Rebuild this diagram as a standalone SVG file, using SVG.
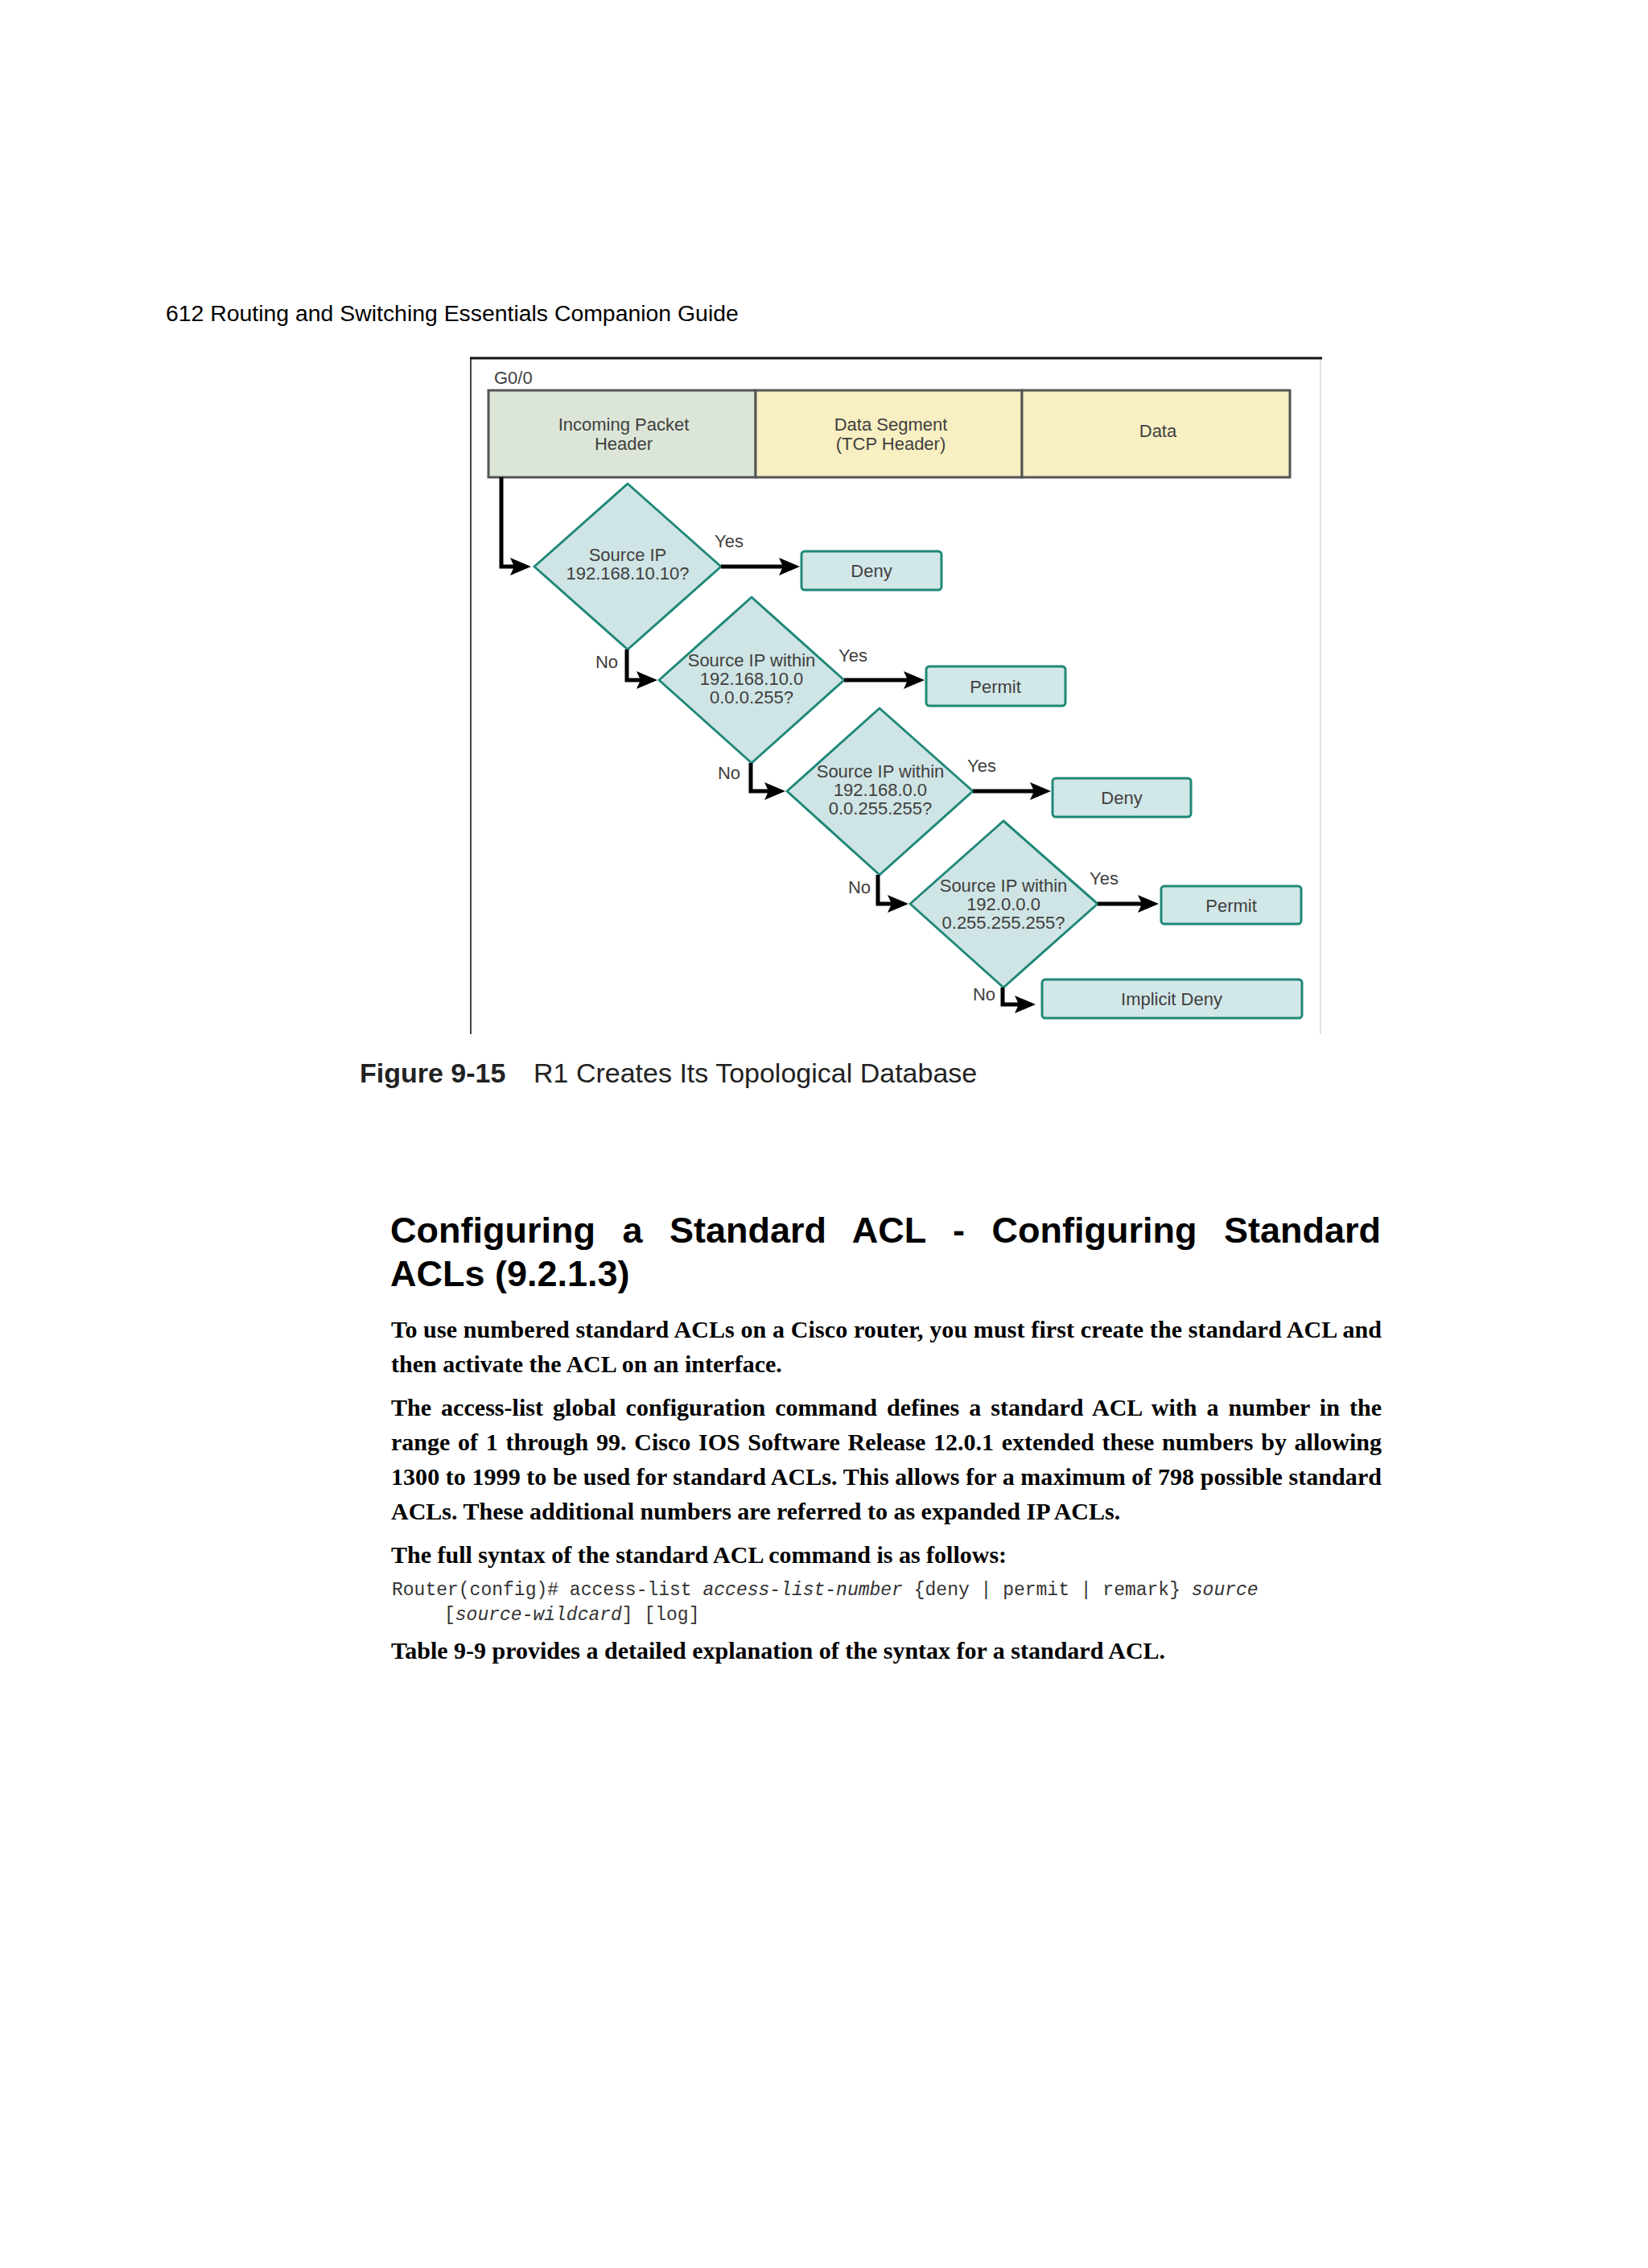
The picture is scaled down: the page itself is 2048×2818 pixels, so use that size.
<svg xmlns="http://www.w3.org/2000/svg" width="2048" height="2818" viewBox="0 0 2048 2818">
<style>
.sans{font-family:"Liberation Sans",Arial,sans-serif}
.fig{font-family:"Liberation Sans",Arial,sans-serif;font-size:22px;fill:#404040}
.mid{text-anchor:middle}
.dia{fill:#cfe4e4;stroke:#1f8878;stroke-width:3;stroke-linejoin:round}
.box{fill:#d2e7e7;stroke:#1f8878;stroke-width:3}
.pkt{stroke:#555;stroke-width:3}
.con{fill:none;stroke:#000;stroke-width:5;stroke-linejoin:miter}
.body{font-family:"Liberation Serif","Times New Roman",serif;font-size:30px;font-weight:bold;fill:#000}
.code{font-family:"Liberation Mono","Courier New",monospace;font-size:23px;fill:#333}
</style>
<defs>
<marker id="arr" markerUnits="userSpaceOnUse" markerWidth="30" markerHeight="24" refX="16" refY="11" orient="auto">
<path d="M0,0 L26,11 L0,22 L5,11 Z" fill="#000"/>
</marker>
</defs>
<rect width="2048" height="2818" fill="#fff"/>

<text class="sans" x="206" y="399" font-size="28.4" fill="#000">612 Routing and Switching Essentials Companion Guide</text>

<g id="frame">
<line x1="1641" y1="445" x2="1641" y2="1285" stroke="#e2e2e2" stroke-width="2"/>
<line x1="585" y1="445" x2="585" y2="1285" stroke="#444" stroke-width="2"/>
<line x1="584" y1="445" x2="1643" y2="445" stroke="#111" stroke-width="3"/>
<text class="fig" x="614" y="477">G0/0</text>
</g>

<g id="packet-header">
<rect class="pkt" x="607" y="485" width="332" height="108" fill="#dce6d8"/>
<text class="fig mid" x="775" y="535">Incoming Packet</text>
<text class="fig mid" x="775" y="559">Header</text>
</g>
<g id="data-segment">
<rect class="pkt" x="939" y="485" width="331" height="108" fill="#f8efc2"/>
<text class="fig mid" x="1107" y="535">Data Segment</text>
<text class="fig mid" x="1107" y="559">(TCP Header)</text>
</g>
<g id="data">
<rect class="pkt" x="1270" y="485" width="333" height="108" fill="#f8efc2"/>
<text class="fig mid" x="1439" y="543">Data</text>
</g>

<g id="decision1">
<polygon class="dia" points="780,601 896,704 780,807 664,704"/>
<text class="fig mid" x="780" y="697">Source IP</text>
<text class="fig mid" x="780" y="720">192.168.10.10?</text>
</g>
<g id="deny1">
<rect class="box" x="996" y="685" width="174" height="48" rx="4"/>
<text class="fig mid" x="1083" y="717">Deny</text>
</g>

<g id="decision2">
<polygon class="dia" points="934,742 1049,845 934,948 819,845"/>
<text class="fig mid" x="934" y="828">Source IP within</text>
<text class="fig mid" x="934" y="851">192.168.10.0</text>
<text class="fig mid" x="934" y="874">0.0.0.255?</text>
</g>
<g id="permit1">
<rect class="box" x="1151" y="828" width="173" height="49" rx="4"/>
<text class="fig mid" x="1237" y="861">Permit</text>
</g>

<g id="decision3">
<polygon class="dia" points="1093,880 1209,983 1093,1087 978,983"/>
<text class="fig mid" x="1094" y="966">Source IP within</text>
<text class="fig mid" x="1094" y="989">192.168.0.0</text>
<text class="fig mid" x="1094" y="1012">0.0.255.255?</text>
</g>
<g id="deny2">
<rect class="box" x="1308" y="967" width="172" height="48" rx="4"/>
<text class="fig mid" x="1394" y="999">Deny</text>
</g>

<g id="decision4">
<polygon class="dia" points="1247,1020 1364,1123 1247,1227 1131,1123"/>
<text class="fig mid" x="1247" y="1108">Source IP within</text>
<text class="fig mid" x="1247" y="1131">192.0.0.0</text>
<text class="fig mid" x="1247" y="1154">0.255.255.255?</text>
</g>
<g id="permit2">
<rect class="box" x="1443" y="1101" width="174" height="47" rx="4"/>
<text class="fig mid" x="1530" y="1133">Permit</text>
</g>

<g id="implicit-deny">
<rect class="box" x="1295" y="1217" width="323" height="48" rx="4"/>
<text class="fig mid" x="1456" y="1249">Implicit Deny</text>
</g>

<g id="connectors">
<path class="con" d="M623,593 V704 H650" marker-end="url(#arr)"/>
<path class="con" d="M896,704 H984" marker-end="url(#arr)"/>
<path class="con" d="M779,807 V845 H807" marker-end="url(#arr)"/>
<path class="con" d="M1049,845 H1139" marker-end="url(#arr)"/>
<path class="con" d="M933,948 V983 H966" marker-end="url(#arr)"/>
<path class="con" d="M1209,983 H1296" marker-end="url(#arr)"/>
<path class="con" d="M1091,1087 V1123 H1119" marker-end="url(#arr)"/>
<path class="con" d="M1364,1123 H1430" marker-end="url(#arr)"/>
<path class="con" d="M1246,1227 V1248 H1277" marker-end="url(#arr)"/>
<text class="fig" x="888" y="680">Yes</text>
<text class="fig" x="768" y="830" text-anchor="end">No</text>
<text class="fig" x="1042" y="822">Yes</text>
<text class="fig" x="920" y="968" text-anchor="end">No</text>
<text class="fig" x="1202" y="959">Yes</text>
<text class="fig" x="1082" y="1110" text-anchor="end">No</text>
<text class="fig" x="1354" y="1099">Yes</text>
<text class="fig" x="1237" y="1243" text-anchor="end">No</text>
</g>

<text class="sans" x="447" y="1345" font-size="34" fill="#222"><tspan font-weight="bold">Figure 9-15</tspan><tspan x="663">R1 Creates Its Topological Database</tspan></text>

<g id="section">
<text class="sans" x="485" y="1544" font-size="45" font-weight="bold" fill="#000" word-spacing="21">Configuring a Standard ACL - Configuring Standard</text>
<text class="sans" x="485" y="1598" font-size="45" font-weight="bold" fill="#000">ACLs (9.2.1.3)</text>
<text class="body" x="486" y="1662" textLength="1231" lengthAdjust="spacing">To use numbered standard ACLs on a Cisco router, you must first create the standard ACL and</text>
<text class="body" x="486" y="1705">then activate the ACL on an interface.</text>
<text class="body" x="486" y="1759" word-spacing="4.5" textLength="1231" lengthAdjust="spacing">The access-list global configuration command defines a standard ACL with a number in the</text>
<text class="body" x="486" y="1802" word-spacing="2.2" textLength="1231" lengthAdjust="spacing">range of 1 through 99. Cisco IOS Software Release 12.0.1 extended these numbers by allowing</text>
<text class="body" x="486" y="1845" textLength="1231" lengthAdjust="spacing">1300 to 1999 to be used for standard ACLs. This allows for a maximum of 798 possible standard</text>
<text class="body" x="486" y="1888">ACLs. These additional numbers are referred to as expanded IP ACLs.</text>
<text class="body" x="486" y="1942">The full syntax of the standard ACL command is as follows:</text>
<text class="code" x="487" y="1982">Router(config)# access-list <tspan font-style="italic">access-list-number</tspan> {deny | permit | remark} <tspan font-style="italic">source</tspan></text>
<text class="code" x="552" y="2013">[<tspan font-style="italic">source-wildcard</tspan>] [log]</text>
<text class="body" x="486" y="2061">Table 9-9 provides a detailed explanation of the syntax for a standard ACL.</text>
</g>
</svg>
